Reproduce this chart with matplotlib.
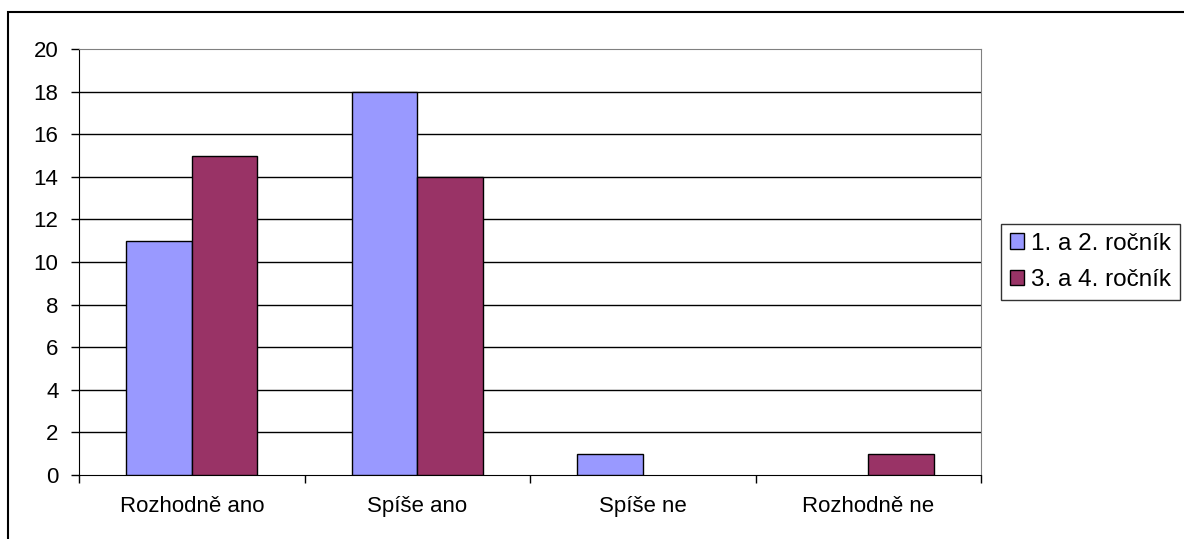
import matplotlib
matplotlib.use("Agg")
import matplotlib.pyplot as plt
from matplotlib.patches import Rectangle
import numpy as np

categories = ["Rozhodně ano", "Spíše ano", "Spíše ne", "Rozhodně ne"]
series_names = ["1. a 2. ročník", "3. a 4. ročník"]
values_12 = [11, 18, 1, 0]
values_34 = [15, 14, 0, 1]
colors = ["#9999FF", "#993366"]
yticks = list(range(0, 21, 2))

plt.rcParams['font.family'] = ['Liberation Sans', 'DejaVu Sans']
FS = 16
LFS = 17.5

fig = plt.figure(figsize=(11.84, 5.39), dpi=100)
fig.patches.append(Rectangle((8/1184, -0.05), 1.2, 1 - 12/539 + 0.05, transform=fig.transFigure,
                             fill=False, edgecolor='black', linewidth=1.5, zorder=0))
ax = fig.add_axes([79/1184, 1 - 475/539, (981-79)/1184, (475-49)/539])

x = np.arange(len(categories))
w = 0.29
b1 = ax.bar(x - w/2, values_12, w, color=colors[0], edgecolor='black', linewidth=1, label=series_names[0], zorder=3)
b2 = ax.bar(x + w/2, values_34, w, color=colors[1], edgecolor='black', linewidth=1, label=series_names[1], zorder=3)
for bars, vals in ((b1, values_12), (b2, values_34)):
    for p, v in zip(bars, vals):
        if v == 0:
            p.set_visible(False)

ax.set_xlim(-0.5, len(categories) - 0.5)
ax.set_ylim(0, 20)
ax.set_yticks(yticks)
ax.set_yticklabels([str(t) for t in yticks], fontsize=FS)
for t in yticks[1:-1]:
    ax.axhline(t, color='black', linewidth=1, zorder=1)

ax.set_xticks(np.arange(-0.5, len(categories), 1.0))
ax.set_xticklabels([])
ax.set_xticks(x, minor=True)
ax.set_xticklabels(categories, minor=True, fontsize=FS)
ax.tick_params(axis='x', which='minor', length=0, pad=15)
ax.tick_params(axis='x', which='major', length=5.8, direction='out', width=1)
ax.tick_params(axis='y', length=5.8, direction='out', width=1, pad=9)

ax.spines['left'].set_color('black')
ax.spines['bottom'].set_color('black')
ax.spines['top'].set_color('#808080')
ax.spines['right'].set_color('#808080')

leg = fig.legend(loc='upper left', bbox_to_anchor=(1001/1184, 1 - 224/539), fontsize=LFS,
                 frameon=True, fancybox=False, edgecolor='black', handlelength=0.6, handleheight=0.6,
                 handletextpad=0.3, borderpad=0.35, labelspacing=0.6, borderaxespad=0)
leg.get_frame().set_linewidth(1)

fig.savefig("out.png", dpi=100)
